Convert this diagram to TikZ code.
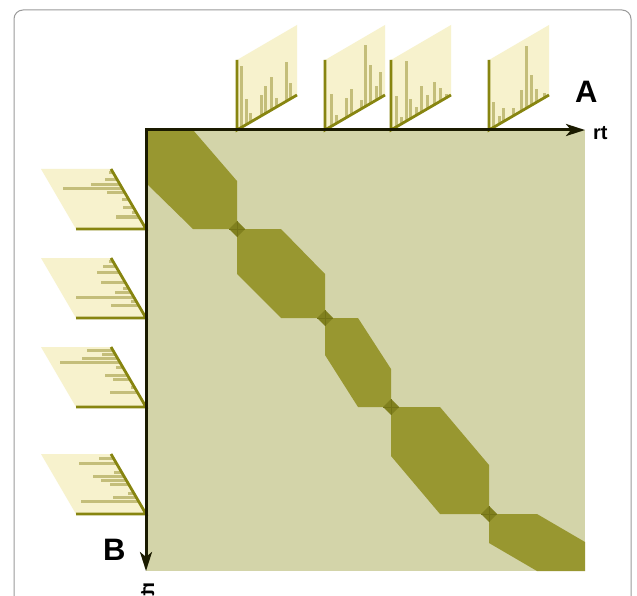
\documentclass[tikz,border=0pt]{standalone}
\usepackage{fontspec}
\setmainfont{Liberation Sans}
\usetikzlibrary{arrows.meta}
\definecolor{bgsq}{HTML}{D3D4A9}
\definecolor{blk}{HTML}{989730}
\definecolor{dia}{HTML}{80801E}
\definecolor{dialine}{HTML}{737316}
\definecolor{specfill}{HTML}{F7F2CD}
\definecolor{specaxis}{HTML}{878510}
\definecolor{specbar}{HTML}{C4BE7A}
\definecolor{axiscol}{HTML}{1A1A00}
\definecolor{framecol}{HTML}{9A9A9A}
\newcommand\topspec[2]{%
  \fill[specfill] (#1,130) -- (#1+60,95) -- (#1+60,25) -- (#1,60) -- cycle;
  \foreach \t/\h in {#2} \draw[specbarline] (#1+60*\t,130-35*\t) -- ++(0,-\h);
  \draw[specaxisline] (#1,60) -- (#1,130) -- (#1+60,95);
}
\newcommand\leftspec[2]{%
  \fill[specfill] (146,#1) -- (76,#1) -- (41,#1-60) -- (111,#1-60) -- cycle;
  \foreach \t/\l in {#2} \draw[specbarline] (146-35*\t,#1-60*\t) -- ++(-\l,0);
  \draw[specaxisline] (76,#1) -- (146,#1) -- (111,#1-60);
}
\begin{document}
\begin{tikzpicture}[x=1pt,y=-1pt,
  specbarline/.style={draw=specbar, line width=3pt},
  specaxisline/.style={draw=specaxis, line width=2.8pt, line join=miter},
  mainaxis/.style={draw=axiscol, line width=3pt, line join=miter},
  biglab/.style={font=\bfseries\fontsize{31}{33}\selectfont, inner sep=0pt},
  smalllab/.style={font=\bfseries\fontsize{20}{22}\selectfont, inner sep=0pt}]
\useasboundingbox (0,0) rectangle (637,596);
\fill[white] (0,0) rectangle (637,596);
\draw[framecol, line width=1pt, rounded corners=9pt] (14,10) rectangle (631,630);

% matrix square
\fill[bgsq] (146,130) rectangle (585,571);

% diagonal blocks
\fill[blk] (146,130) -- (193,130) -- (237,181) -- (237,229) -- (193,229) -- (146,183) -- cycle;
\fill[blk] (237,229) -- (281,229) -- (325,274) -- (325,318) -- (281,318) -- (237,274) -- cycle;
\fill[blk] (325,318) -- (358,318) -- (391,369) -- (391,407) -- (358,407) -- (325,355) -- cycle;
\fill[blk] (391,407) -- (440,407) -- (489,465) -- (489,514) -- (440,514) -- (391,456) -- cycle;
\fill[blk] (489,514) -- (537,514) -- (585,542) -- (585,571) -- (537,571) -- (489,543) -- cycle;

% junction diamonds
\foreach \x/\y in {237/229, 325/318, 391/407, 489/514} {
  \fill[dia] (\x-8,\y) -- (\x,\y-8) -- (\x+8,\y) -- (\x,\y+8) -- cycle;
  \draw[dialine, line width=0.6pt] (\x-8,\y) -- (\x+8,\y) (\x,\y-8) -- (\x,\y+8);
}

% top spectra
\topspec{237}{0.072/61,0.156/26,0.233/9,0.406/21,0.483/27,0.567/33,0.656/9,0.822/39,0.889/16}
\topspec{325}{0.111/32,0.194/8,0.35/20,0.444/25,0.611/9,0.678/61,0.75/39,0.85/14,0.928/26}
\topspec{391}{0.094/31,0.178/7,0.25/60,0.333/19,0.417/8,0.511/26,0.606/14,0.722/23,0.828/13,0.928/4}
\topspec{489}{0.083/25,0.167/8,0.239/14,0.406/8,0.539/21,0.622/62,0.711/30,0.794/13,0.917/5}

% left spectra
\leftspec{229}{0.938/4.6,0.819/12,0.748/29,0.676/59,0.605/18,0.486/6.5,0.352/11,0.271/5,0.2/23}
\leftspec{318}{0.937/4.6,0.855/12.6,0.758/22.8,0.589/24,0.493/5.6,0.42/16.6,0.348/58,0.275/5,0.213/27.5}
\leftspec{407}{0.942/26,0.88/13.4,0.808/36,0.736/60,0.663/6.8,0.529/22.7,0.462/16.8,0.317/4.3,0.24/28}
\leftspec{514}{0.918/14.4,0.841/37.2,0.696/7.7,0.628/30.9,0.56/25,0.493/18.4,0.348/5.9,0.275/22.9,0.203/58}

% main axes
\coordinate (O) at (146,130);
\coordinate (Aend) at (585,130);
\coordinate (Bend) at (146,571);
\draw[mainaxis, {Stealth[length=19pt,width=12pt,inset=5pt]}-{Stealth[length=19pt,width=12pt,inset=5pt]}] (Bend) -- (O) -- (Aend);

% labels
\node[biglab, anchor=base west] (A) at (575,103) {A};
\node[smalllab, anchor=base west] (rtA) at (593,140) {rt};
\node[biglab, anchor=base west] (B) at (103,560) {B};
\node[smalllab, anchor=base west, cm={0,-1,-1,0,(0,0)}] (rtB) at (154,582) {rt};
\end{tikzpicture}
\end{document}
